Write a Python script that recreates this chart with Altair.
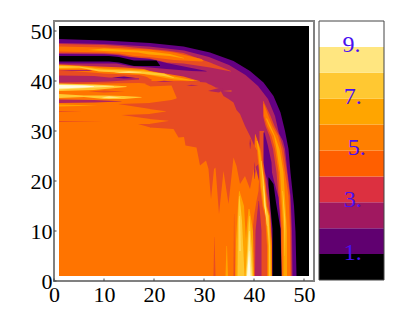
import altair as alt

# Contour level colours of the plot and of the bar
PLOT_COLORS = {"K": "#000000", "P": "#640082", "M": "#B0255F", "R": "#E84C22", "O": "#FF7400",
               "L": "#FFA300", "Y": "#FFC832", "V": "#FFE680", "W": "#FFFBE0"}
BAR_COLORS = ["#000000", "#600070", "#A01860", "#DC3040", "#FF5F00",
              "#FF7F00", "#FFA500", "#FFC832", "#FFE680", "#FFFFFF"]
BAR_LABELS = ["1.", "3.", "5.", "7.", "9."]
BAR_LABEL_AT = [1.05, 3.08, 5.08, 7.08, 9.08]
BAR_LABEL_X = [0.52, 0.52, 0.58, 0.52, 0.50]
TICKS = [0, 10, 20, 30, 40, 50]

# Each band: colour key, orientation, rows of (along, low edge, high edge)
FIELD = ("K", "h", [(1, 1, 51), (51, 1, 51)])
OUTER = ("P", "h", [(1, 1, 48.4), (10, 1, 48.1), (19.2, 1, 47.6), (25.9, 1, 46.9), (31.2, 1, 45.7),
                    (35.9, 1, 44), (39.2, 1, 42), (41.9, 1, 39.7), (43.9, 1, 37), (45.3, 1, 33.7),
                    (46.2, 1, 30), (46.9, 1, 26.4), (47.3, 1, 21.7), (48, 1, 15), (48.3, 1, 9.8), (48.5, 1, 1)])
MIDDLE = ("M", "h", [(1, 1, 47.6), (10, 1, 47.4), (19, 1, 46.9), (26, 1, 46.1), (31, 1, 44.8),
                     (35, 1, 43.2), (38.3, 1, 41.2), (40.8, 1, 39), (42.8, 1, 36.4), (44.2, 1, 33),
                     (45, 1, 29.5), (45.8, 1, 28), (46.2, 1, 26.4), (46.7, 1, 21.7), (47.3, 1, 17), (47.6, 1, 10), (47.7, 1, 1)])
BASE = ("O", "h", [(1, 1, 42), (19, 1, 42), (30, 1, 39), (38, 1, 26), (40, 1, 24), (43, 1, 12), (43.7, 1, 1)])
BLOB = ("R", "h", [(19.2, 30.7, 40), (23.9, 30.4, 40), (24.9, 28.7, 40), (26, 28.8, 40), (26.3, 27.1, 40),
                   (28.5, 26.7, 39.9), (29.2, 23.1, 39.8), (30.4, 24.1, 39.7), (30.9, 22.4, 39.4),
                   (31.4, 16.4, 39.2), (32, 22.4, 38.9), (32.3, 22.7, 38.7), (33, 13.4, 38.6), (33.9, 22, 37),
                   (34.9, 15.4, 36.4), (35.9, 24.7, 35.7), (36.5, 23, 34.2), (37.2, 19.4, 33.4), (38.2, 21, 31),
                   (39.2, 18.4, 29), (40, 22.5, 27.2), (41.5, 24, 24.2)])
WEDGE_0 = ("R", "h", [(18.2, 39.4, 39.45), (19.3, 38.9, 40)])
WEDGE_1 = ("R", "h", [(12.8, 35.4, 35.42), (19.3, 34.4, 35.6)])
WEDGE_2 = ("R", "h", [(13.5, 33.2, 33.22), (19.3, 32.4, 33.4)])
WEDGE_3 = ("R", "h", [(16.8, 31.4, 31.42), (19.3, 30.7, 31.4)])
FINGER_A = ("O", "h", [(19, 35.6, 38.9), (23.5, 36.2, 39.1), (24.5, 36.5, 36.7)])
FINGER_B = ("O", "h", [(19, 33.4, 34.4), (22.4, 33.9, 33.95)])
FINGER_C = ("O", "h", [(19, 31.4, 32.4), (22.9, 32, 32.05)])
TOP_RED = ("R", "h", [(1, 45.6, 47.4), (10, 45.5, 47.2), (13, 45.3, 47), (16, 44.7, 46.7), (19.2, 44.5, 46.4),
                      (22.5, 43.7, 46.1), (25.9, 43.5, 45.6), (31.2, 42.7, 43.7), (35.4, 41.9, 42)])
TOP_ORANGE = ("O", "h", [(1, 45.9, 46.9), (10, 45.7, 46.7), (13, 45.5, 46.6), (16, 45, 46.4), (19, 44.8, 46.3),
                         (24, 44.2, 45.7), (29.5, 43.9, 44.4), (29.9, 44, 44.05)])
TOP_LIGHT = ("L", "h", [(6.8, 46.2, 46.22), (10, 46, 46.5), (16.8, 45.7, 46.1), (19, 45.3, 45.9),
                        (23.2, 45, 45.4), (26, 44.5, 44.6)])
WEDGE_PURPLE = ("P", "h", [(1, 43.5, 45.4), (10, 43.5, 45.35), (12.5, 43.5, 45.2), (15, 43, 44.8),
                           (19.2, 42.7, 44.4), (22.5, 42.4, 43.6), (27.5, 42, 42.6), (30.5, 41.9, 42)])
WEDGE_BLACK = ("K", "h", [(1, 43.9, 45), (11, 43.9, 45), (13, 43.7, 44.8), (16, 43, 44.1), (20.5, 43, 44.1), (21.2, 43, 43.1)])
LEFT_RED = ("R", "h", [(1, 39.4, 42.2), (10, 39.5, 41.5), (17, 39.6, 41.2), (19.5, 39.4, 40.6)])
LEFT_MAGENTA = ("M", "h", [(1, 39.7, 41.1), (8, 39.8, 41), (11, 39.9, 40.7), (17, 40.3, 40.6)])
LEFT_DARK = ("P", "h", [(11.6, 40.7, 40.72), (14, 40.5, 40.9), (16.3, 40.6, 40.62)])
LEFT_ORANGE = ("O", "h", [(1, 42.2, 43.3), (7, 42.2, 43), (9, 41.6, 42.9), (14, 41.4, 42.7), (18, 41.2, 42.4),
                          (19.2, 40.4, 42), (25.9, 40, 40.9), (29.2, 39.9, 39.95)])
LEFT_LIGHT = ("L", "h", [(1, 42.4, 43.2), (6, 42.5, 42.9), (10, 41.9, 42.5), (18, 41.4, 42.2), (24, 40.3, 40.9), (28, 40, 40.1)])
LEFT_YELLOW = ("Y", "h", [(1, 42.6, 43), (5, 42.7, 42.9), (9, 41.9, 42.3), (17, 41.5, 42), (22, 41, 41.5), (24, 40.6, 40.7)])
LEFT_PALE = ("V", "h", [(12, 41.7, 41.72), (15, 41.6, 41.95), (17.5, 41.7, 41.75)])
FLECK_1 = ("M", "h", [(20.5, 39.9, 39.92), (22, 39.8, 40.05), (23.9, 39.9, 39.92)])
FLECK_2 = ("M", "h", [(26.5, 39.1, 39.12), (27.5, 39, 39.25), (28.9, 39.1, 39.12)])
FLECK_3 = ("M", "h", [(30.9, 38, 38.05), (33, 37.7, 38.6), (33.9, 38.3, 38.35)])
FLECK_4 = ("O", "h", [(33.7, 38, 38.02), (35.5, 37.9, 38.1)])
GLOW_YELLOW = ("Y", "h", [(1, 38, 39.5), (8, 38.2, 39.3), (14.5, 38.8, 38.95)])
GLOW_PALE = ("V", "h", [(1, 38.3, 39.3), (8.5, 38.7, 39.1), (12, 38.9, 39)])
GLOW_WHITE = ("W", "h", [(1, 38.5, 39.2), (6, 38.7, 39.1), (8, 38.85, 38.95)])
THIN_RED = ("R", "h", [(6.9, 37.9, 37.92), (10, 37.7, 38.1), (14.2, 37.9, 37.92)])
LOW_YELLOW = ("Y", "h", [(1, 36.6, 37.4), (6, 36.8, 37.1), (10, 36.4, 37.1), (14, 36.4, 37), (17.5, 36.7, 36.8)])
LOW_PALE = ("V", "h", [(9.5, 36.7, 36.72), (11, 36.55, 36.95), (13.5, 36.7, 36.72)])
LOW_MAGENTA = ("M", "h", [(1, 35.6, 36.3), (8, 35.7, 36.2), (13.5, 35.9, 35.95)])
LOW_LIGHT = ("L", "h", [(1, 34.9, 35.3), (8.8, 35.1, 35.12)])
THIN_A = ("R", "h", [(1, 33.8, 34), (5.6, 33.9, 33.92)])
THIN_B = ("R", "h", [(1, 31.8, 32), (9.8, 31.9, 31.92)])

RIGHT_RED = ("R", "v", [(1, 39.5, 43.75), (10, 39.7, 43.5), (13, 40, 43.2), (16, 40.5, 42.9), (18, 40.9, 42.5), (22, 41.1, 42.1), (30, 41.1, 42)])
RIGHT_MAGENTA = ("M", "v", [(1, 40.2, 41.5), (10, 40.3, 41.5), (16, 40.9, 41)])
SPIKE_A = ("R", "v", [(1, 31.9, 32.3), (8.8, 32.05, 32.1)])
SPIKE_B = ("R", "v", [(1, 35.9, 36.2), (13.4, 36, 36.05)])
SPIKE_C = ("M", "v", [(26.4, 39.2, 39.25), (27.5, 39.1, 39.4), (28.4, 39.2, 39.25)])
SPIKE_D = ("M", "v", [(20.4, 40.1, 40.15), (22, 40, 40.3), (23.7, 40.1, 40.15)])
LIGHT_EDGE = ("L", "v", [(1, 34.3, 34.8), (7, 34.5, 34.6)])
STRIPE_1L = ("L", "v", [(1, 36.3, 39.9), (8, 36.4, 38.4), (15, 36.8, 38), (18, 37, 37.1)])
STRIPE_2L = ("L", "v", [(1, 38, 40), (10, 38.5, 39.8), (14.4, 38.9, 39.1)])
STRIPE_1Y = ("Y", "v", [(1, 36.7, 38.1), (12, 36.8, 37.6), (17, 37, 37.1)])
STRIPE_2Y = ("Y", "v", [(1, 38.3, 39.8), (6, 38.6, 39.6), (13, 39, 39.1)])
STRIPE_1P = ("V", "v", [(6, 37.1, 37.3), (13, 37.1, 37.2)])
STRIPE_2P = ("V", "v", [(1, 38.45, 39.6), (6, 38.8, 39.3), (10, 39, 39.1)])
STRIPE_2W = ("W", "v", [(1, 38.6, 39.3), (6, 39, 39.05)])
GOLD = ("O", "v", [(1, 42.6, 43.7), (7, 42.6, 43.6), (13, 42.2, 43.2), (15, 41.7, 42.6), (19, 41.2, 42.3),
                   (22, 41, 41.9), (26, 40.6, 41.4), (27, 40.1, 41.1), (29.4, 40.2, 40.25)])
GOLD_LIGHT = ("L", "v", [(1, 42.8, 43.5), (7, 42.8, 43.4), (13, 42.4, 43), (15, 41.9, 42.5), (19, 41.4, 42.1), (22, 41.2, 41.7), (26, 40.8, 41.2), (28, 40.5, 40.7)])
GOLD_YELLOW = ("Y", "v", [(1, 43, 43.3), (7, 43, 43.2), (13, 42.5, 42.9), (15, 42, 42.4), (20, 41.7, 42), (24, 41.4, 41.5)])
GOLD_PALE = ("V", "v", [(11, 42.6, 42.65), (15, 42.1, 42.3), (19, 41.9, 41.95)])
FAR_RED = ("R", "v", [(1, 45.3, 47.5), (10.4, 45.3, 47.4), (17, 44.9, 47.2), (21.7, 44.5, 46.6), (26.4, 43.8, 45.9),
                      (29, 43.1, 45.1), (31, 42.3, 44.1), (33, 41.8, 43.3), (36, 41.8, 41.9)])
FAR_ORANGE = ("O", "v", [(1, 45.5, 47.3), (10.4, 45.5, 47.2), (17, 45.2, 46.9), (21.7, 44.9, 46.2), (26.4, 44.2, 45.5),
                         (29, 43.5, 44.8), (31, 42.6, 43.7), (33, 42, 42.9), (35.4, 41.9, 42)])
FAR_LIGHT = ("L", "v", [(1, 45.9, 46.6), (10, 45.9, 46.6), (21.7, 45.2, 45.9), (26.4, 44.5, 45.1), (29, 44, 44.2), (31, 43, 43.3), (32.5, 42.4, 42.6)])
FAR_YELLOW = ("Y", "v", [(5, 46.15, 46.2), (12, 46, 46.3), (18, 45.7, 45.8)])
DEEP_PURPLE = ("P", "v", [(1, 43.65, 45.5), (8, 43.6, 45.4), (13, 43.4, 45.2), (16.7, 43.1, 44.9), (20, 42.7, 44),
                          (21.7, 42.2, 43.6), (23.7, 41.9, 43.5), (27, 41.9, 42.8), (29.7, 41.9, 42.1)])
DEEP_BLACK = ("K", "v", [(1, 43.7, 45.5), (10.4, 43.7, 45.3), (15.7, 43.2, 44.4), (19.4, 42.9, 43.9), (20.7, 42.9, 43)])

BANDS = [FIELD, OUTER, MIDDLE, BASE, BLOB, WEDGE_0, WEDGE_1, WEDGE_2, WEDGE_3, FINGER_A, FINGER_B, FINGER_C,
         TOP_RED, TOP_ORANGE, TOP_LIGHT, WEDGE_PURPLE, WEDGE_BLACK, LEFT_RED, LEFT_MAGENTA, LEFT_DARK,
         LEFT_ORANGE, LEFT_LIGHT, LEFT_YELLOW, LEFT_PALE, FLECK_1, FLECK_2, FLECK_3, FLECK_4, GLOW_YELLOW,
         GLOW_PALE, GLOW_WHITE, THIN_RED, LOW_YELLOW, LOW_PALE, LOW_MAGENTA, LOW_LIGHT, THIN_A, THIN_B,
         RIGHT_RED, RIGHT_MAGENTA, SPIKE_A, SPIKE_B, SPIKE_C, SPIKE_D, LIGHT_EDGE, STRIPE_1L, STRIPE_2L,
         STRIPE_1Y, STRIPE_2Y, STRIPE_1P, STRIPE_2P, STRIPE_2W, GOLD, GOLD_LIGHT, GOLD_YELLOW, GOLD_PALE,
         FAR_RED, FAR_ORANGE, FAR_LIGHT, FAR_YELLOW, DEEP_PURPLE, DEEP_BLACK]

SX = alt.Scale(domain=[0, 52], nice=False, zero=False)
SY = alt.Scale(domain=[0, 52], nice=False, zero=False)
FONT = "Liberation Serif"
axis_common = dict(values=TICKS, title=None, grid=False, domain=False, ticks=False, labelFont=FONT,
                   labelFontSize=22, labelColor="#000000", format="d", labelOverlap=False, labelFlush=False)
AX = alt.Axis(labelPadding=3, **axis_common)
AY = alt.Axis(labelBaseline="middle", labelPadding=2, **axis_common)


def band_chart(band):
    key, orient, rows = band
    data = alt.Data(values=[{"t": t, "a": a, "b": b} for t, a, b in rows])
    if orient == "h":
        return alt.Chart(data).mark_area(color=PLOT_COLORS[key], orient="vertical").encode(
            x=alt.X("t:Q", scale=SX, axis=AX),
            y=alt.Y("a:Q", scale=SY, axis=AY),
            y2="b:Q",
        )
    return alt.Chart(data).mark_area(color=PLOT_COLORS[key], orient="horizontal").encode(
        y=alt.Y("t:Q", scale=SY, axis=AY),
        x=alt.X("a:Q", scale=SX, axis=AX),
        x2="b:Q",
    )


x_ticks = alt.Chart(alt.Data(values=[{"v": v, "y0": 0, "y1": 0.5} for v in TICKS])).mark_rule(color="#444444", strokeWidth=1).encode(
    x=alt.X("v:Q", scale=SX, axis=AX), y=alt.Y("y0:Q", scale=SY, axis=AY), y2="y1:Q")
y_ticks = alt.Chart(alt.Data(values=[{"v": v, "x0": 0, "x1": 0.5} for v in TICKS])).mark_rule(color="#444444", strokeWidth=1).encode(
    y=alt.Y("v:Q", scale=SY, axis=AY), x=alt.X("x0:Q", scale=SX, axis=AX), x2="x1:Q")

plot = alt.layer(*[band_chart(b) for b in BANDS], x_ticks, y_ticks).properties(
    width=260, height=260, view=alt.ViewConfig(stroke="#808080", strokeWidth=2))

bar_rows = [{"l": i, "h": i + 1, "c": c} for i, c in enumerate(BAR_COLORS)]
BX = alt.Scale(domain=[0, 1], nice=False, zero=False)
BY = alt.Scale(domain=[0, 10], nice=False, zero=False)
bar_rect = alt.Chart(alt.Data(values=bar_rows)).mark_rect().encode(
    x=alt.value(0), x2=alt.value(65),
    y=alt.Y("l:Q", scale=BY, axis=None), y2="h:Q",
    color=alt.Color("c:N", scale=None, legend=None),
)
bar_edge = alt.Chart(alt.Data(values=[{"l": 0, "h": 10}])).mark_rect(filled=False, stroke="#444444", strokeWidth=1).encode(
    x=alt.value(0), x2=alt.value(65),
    y=alt.Y("l:Q", scale=BY, axis=None), y2="h:Q",
)
bar_text = alt.Chart(alt.Data(values=[{"t": t, "v": v, "p": p} for t, v, p in zip(BAR_LABELS, BAR_LABEL_AT, BAR_LABEL_X)])).mark_text(
    font=FONT, fontSize=24, color="#4A10F0", baseline="middle", align="center").encode(
    x=alt.X("p:Q", scale=BX, axis=None), y=alt.Y("v:Q", scale=BY, axis=None), text="t:N")
bar = alt.layer(bar_rect, bar_edge, bar_text).properties(width=65, height=259, view=alt.ViewConfig(stroke=None))

chart = alt.hconcat(plot, bar, spacing=2).properties(
    padding={"left": 21, "top": 10, "right": 0, "bottom": 0}, background="white")
chart.save("out.html", embed_options={"renderer": "svg", "actions": False})
